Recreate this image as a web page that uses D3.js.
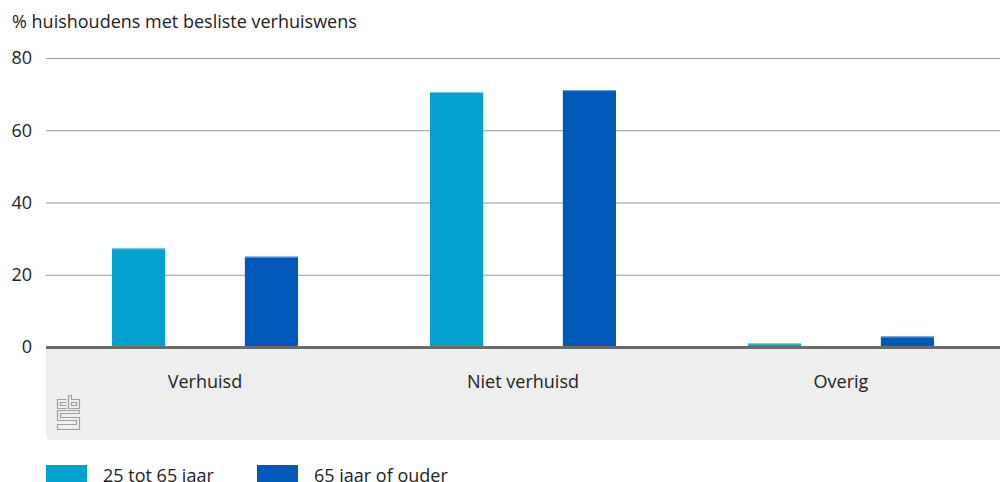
<!DOCTYPE html>
<html><head><meta charset="utf-8">
<script src="https://cdn.jsdelivr.net/npm/d3@7"></script>
<style>body{margin:0;background:#fff}svg{display:block;font-family:"Open Sans",sans-serif}</style>
</head><body><svg id="c" width="1000" height="482"></svg>
<script>
const categories = ["Verhuisd", "Niet verhuisd", "Overig"];
const seriesNames = ["25 tot 65 jaar", "65 jaar of ouder"];
const young = [27.3, 70.6, 1.0];
const old = [25.0, 71.1, 2.9];
const yTicks = [0, 20, 40, 60, 80];
const colors = ["#00a1cd", "#0058b8"];
const strokeColors = ["#7fd0e6", "#6f9fe0"];

const svg = d3.select("#c");
const mLeft = 46, mRight = 1000, mTop = 58, base = 347;
const y = d3.scaleLinear().domain([0, 80]).range([base, mTop]);
const x0 = d3.scaleBand().domain(categories).range([mLeft, mRight]);
const x1 = d3.scaleBand().domain([0, 1]).range([66, 318 - 66]).paddingInner(0.6);

svg.append("text").attr("x", 12).attr("y", 28).attr("font-size", 18).attr("fill", "#222")
  .text("% huishoudens met besliste verhuiswens");

// grey category box
svg.append("path").attr("fill", "#eeeeee")
  .attr("d", `M${mLeft},${base} H${mRight} V440 H${mLeft+6} Q${mLeft},440 ${mLeft},434 Z`);

// gridlines
svg.append("g").selectAll("line").data(yTicks.filter(d => d > 0)).join("line")
  .attr("x1", mLeft).attr("x2", mRight).attr("y1", d => y(d) + 0.5).attr("y2", d => y(d) + 0.5)
  .attr("stroke", "#999").attr("stroke-width", 1);

svg.append("g").selectAll("text").data(yTicks).join("text")
  .attr("x", 32).attr("y", d => y(d)).attr("dy", "0.35em").attr("text-anchor", "end")
  .attr("font-size", 18).attr("fill", "#222").text(d => d);

const series = [young, old];
series.forEach((vals, si) => {
  const g = svg.append("g");
  g.selectAll("rect.b").data(categories).join("rect")
    .attr("x", c => x0(c) + x1(si)).attr("width", x1.bandwidth())
    .attr("y", (c, i) => y(vals[i])).attr("height", (c, i) => base - y(vals[i]))
    .attr("fill", colors[si]);
  g.selectAll("line.t").data(categories).join("line")
    .attr("x1", c => x0(c) + x1(si)).attr("x2", c => x0(c) + x1(si) + x1.bandwidth())
    .attr("y1", (c, i) => y(vals[i]) + 0.5).attr("y2", (c, i) => y(vals[i]) + 0.5)
    .attr("stroke", strokeColors[si]).attr("stroke-width", 1);
});

// baseline
svg.append("rect").attr("x", mLeft).attr("y", base - 1).attr("width", mRight - mLeft).attr("height", 3).attr("fill", "#6b6b6b");

svg.append("g").selectAll("text").data(categories).join("text")
  .attr("x", c => x0(c) + x0.bandwidth() / 2).attr("y", 388).attr("text-anchor", "middle")
  .attr("font-size", 18).attr("fill", "#222").text(c => c);

// cbs logo (simplified outline)
const lg = svg.append("g").attr("fill", "none").attr("stroke", "#a0a0a0").attr("stroke-width", 1.2);
lg.append("path").attr("d", "M66.5,399.5 H57.5 V408.5 H66.5 M66.5,402.5 H60.5 V405.5 H66.5");
lg.append("path").attr("d", "M68.5,395.5 V408.5 H79.5 V399.5 H71.5 V395.5 Z M71.5,402.5 H76.5 V405.5 H71.5 Z");
lg.append("path").attr("d", "M79.5,410.5 H57.5 V420.5 H76.5 V424.5 H57.5 V429.5 H79.5 V417.5 H60.5 V413.5 H79.5 Z");
</script>
<script>
// legend
const leg = d3.select("#c").append("g");
const lx = [46, 257];
seriesNames.forEach((n, i) => {
  leg.append("rect").attr("x", lx[i]).attr("y", 465).attr("width", 41).attr("height", 20).attr("fill", colors[i]);
  leg.append("text").attr("x", lx[i] + 57).attr("y", 482).attr("font-size", 18).attr("fill", "#222").text(n);
});
</script></body></html>
